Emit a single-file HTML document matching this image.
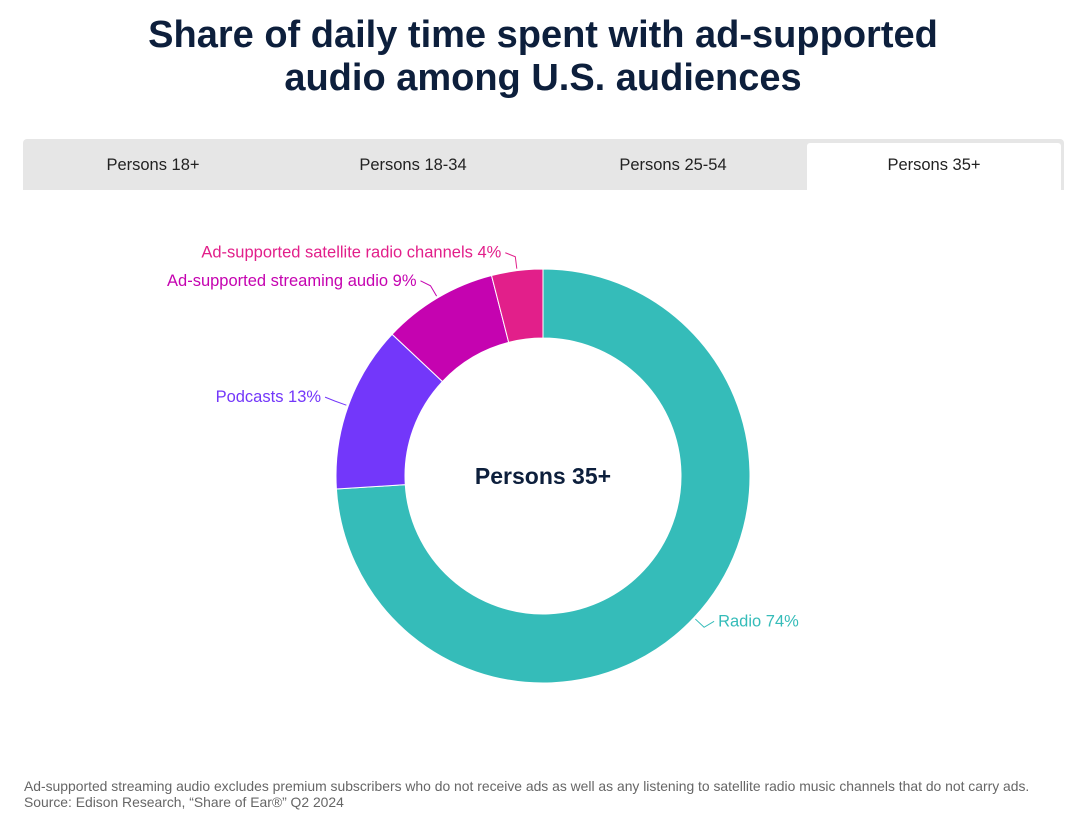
<!DOCTYPE html>
<html><head><meta charset="utf-8"><style>
body{margin:0;width:1080px;height:817px;background:#fff;font-family:"Liberation Sans",sans-serif;overflow:hidden;position:relative}
h1{position:absolute;top:14px;left:0;width:1086px;margin:0;text-align:center;font-size:38px;line-height:43px;font-weight:bold;color:#0d1f3c}
#tabs{position:absolute;left:23px;top:139px;width:1041px;height:51px;background:#e6e6e6;border-radius:4px 4px 0 0}
.tab{position:absolute;top:0;height:51px;line-height:53px;text-align:center;font-size:16.5px;color:#222;width:260px}
.tab.active{background:#fff;top:4px;height:47px;line-height:45px;border-radius:3px 3px 0 0}
.foot{position:absolute;left:24px;font-size:13.9px;color:#666;white-space:nowrap}
</style></head><body>
<h1>Share of daily time spent with ad-supported<br>audio among U.S. audiences</h1>
<div id="tabs">
<div class="tab" style="left:0">Persons 18+</div>
<div class="tab" style="left:260px">Persons 18-34</div>
<div class="tab" style="left:520px">Persons 25-54</div>
<div class="tab active" style="left:784px;width:254px">Persons 35+</div>
</div>
<svg id="chart" width="1080" height="817" style="position:absolute;left:0;top:0"></svg>
<div class="foot" style="top:778px">Ad-supported streaming audio excludes premium subscribers who do not receive ads as well as any listening to satellite radio music channels that do not carry ads.</div>
<div class="foot" style="top:794px">Source: Edison Research, “Share of Ear®” Q2 2024</div>
<script>
const categories=["Radio","Podcasts","Ad-supported streaming audio","Ad-supported satellite radio channels"];
const values=[74,13,9,4];
const colors=["#35bcb9","#7337fa","#c503b0","#e21f8a"];
const svg=document.getElementById('chart');
const NS="http://www.w3.org/2000/svg";
const cx=543,cy=476,R=207,r=138;
const total=values.reduce((a,b)=>a+b,0);
const yOff=[-6,-4,-5,-4];
function pt(a,rad){return [cx+rad*Math.sin(a),cy-rad*Math.cos(a)];}
let acc=0;
values.forEach((v,i)=>{
  const a0=acc/total*2*Math.PI;acc+=v;const a1=acc/total*2*Math.PI;
  const lg=(a1-a0)>Math.PI?1:0;
  const p0=pt(a0,R),p1=pt(a1,R),q1=pt(a1,r),q0=pt(a0,r);
  const path=document.createElementNS(NS,'path');
  path.setAttribute('d',`M${p0[0]},${p0[1]}A${R},${R} 0 ${lg} 1 ${p1[0]},${p1[1]}L${q1[0]},${q1[1]}A${r},${r} 0 ${lg} 0 ${q0[0]},${q0[1]}Z`);
  path.setAttribute('fill',colors[i]);path.setAttribute('stroke','#fff');path.setAttribute('stroke-width','1');
  
  
  svg.appendChild(path);
  const am=(a0+a1)/2;
  const e=pt(am,R+2),m=pt(am,R+14);
  const right=Math.sin(am)>=0;
  let ly=m[1]+yOff[i];
  const lx=m[0]+(right?10:-10);
  const line=document.createElementNS(NS,'path');
  line.setAttribute('d',`M${e[0]},${e[1]}L${m[0]},${m[1]}L${lx},${ly}`);
  line.setAttribute('fill','none');line.setAttribute('stroke',colors[i]);
  
  
  svg.appendChild(line);
  const t=document.createElementNS(NS,'text');
  t.setAttribute('x',lx+(right?4:-4));t.setAttribute('y',ly+5);
  t.setAttribute('text-anchor',right?'start':'end');
  t.setAttribute('font-size','16.5');t.setAttribute('fill',colors[i]);
  t.setAttribute('font-family','Liberation Sans, sans-serif');
  t.textContent=categories[i]+' '+v+'%';
  
  
  svg.appendChild(t);
});
const c=document.createElementNS(NS,'text');
c.setAttribute('x',cx);c.setAttribute('y',cy+8);c.setAttribute('text-anchor','middle');
c.setAttribute('font-size','23');c.setAttribute('font-weight','bold');c.setAttribute('fill','#0d1f3c');
c.setAttribute('font-family','Liberation Sans, sans-serif');
c.textContent='Persons 35+';


svg.appendChild(c);
</script>
</body></html>
